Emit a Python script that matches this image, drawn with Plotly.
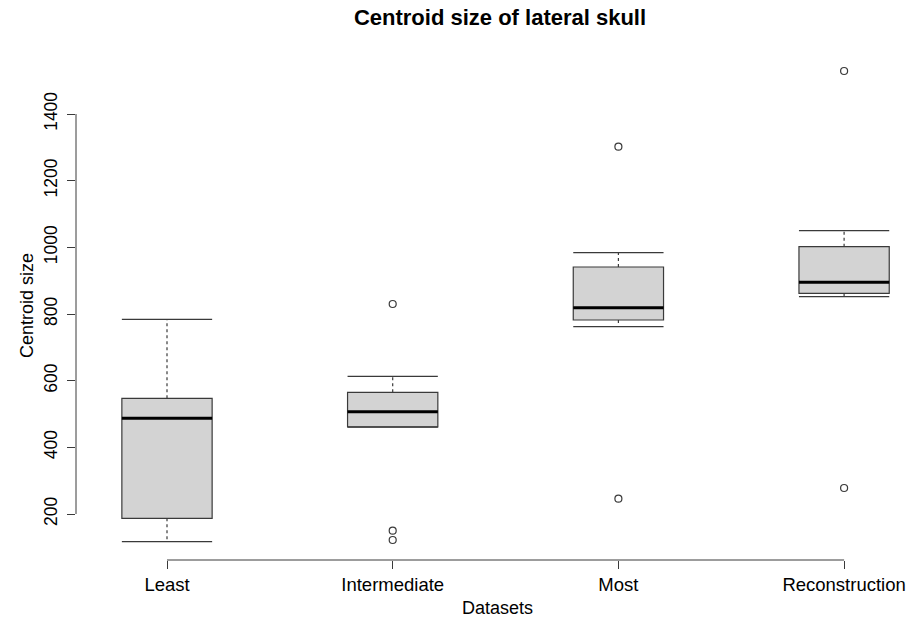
import plotly.graph_objects as go

# ---- data ----
categories = ["Least", "Intermediate", "Most", "Reconstruction"]
lower_whisker = [117, 461, 762, 852]
q1 = [187, 461, 782, 862]
median = [487, 507, 819, 895]
q3 = [547, 565, 941, 1002]
upper_whisker = [784, 613, 984, 1050]
outliers = [[], [830, 150, 122], [1302, 246], [1529, 278]]
y_ticks = [200, 400, 600, 800, 1000, 1200, 1400]

W, H = 921, 622
pos = list(range(1, len(categories) + 1))
half = 0.2  # half box width in category units
edge = "#3a3a3a"

fig = go.Figure()

# boxes (box + median drawn by plotly, whiskers drawn separately so they can be dashed)
for i, c in enumerate(categories):
    fig.add_trace(go.Box(
        x=[pos[i]], q1=[q1[i]], median=[median[i]], q3=[q3[i]],
        lowerfence=[q1[i]], upperfence=[q3[i]],
        width=2 * half, fillcolor="#d3d3d3",
        line=dict(color=edge, width=1.2), whiskerwidth=0,
        boxpoints=False, showlegend=False, hoverinfo="skip",
    ))

# dashed whiskers
wx, wy = [], []
for i in range(len(categories)):
    wx += [pos[i], pos[i], None, pos[i], pos[i], None]
    wy += [q3[i], upper_whisker[i], None, q1[i], lower_whisker[i], None]
fig.add_trace(go.Scatter(x=wx, y=wy, mode="lines",
                         line=dict(color=edge, width=1.2, dash="3px,3px"),
                         showlegend=False, hoverinfo="skip"))

# staples
sx, sy = [], []
for i in range(len(categories)):
    for v in (upper_whisker[i], lower_whisker[i]):
        sx += [pos[i] - half, pos[i] + half, None]
        sy += [v, v, None]
fig.add_trace(go.Scatter(x=sx, y=sy, mode="lines",
                         line=dict(color=edge, width=1.4),
                         showlegend=False, hoverinfo="skip"))

# thick medians
mx, my = [], []
for i in range(len(categories)):
    mx += [pos[i] - half, pos[i] + half, None]
    my += [median[i], median[i], None]
fig.add_trace(go.Scatter(x=mx, y=my, mode="lines",
                         line=dict(color="black", width=3),
                         showlegend=False, hoverinfo="skip"))

# outliers
ox, oy = [], []
for i, vals in enumerate(outliers):
    for v in vals:
        ox.append(pos[i])
        oy.append(v)
fig.add_trace(go.Scatter(x=ox, y=oy, mode="markers",
                         marker=dict(symbol="circle-open", size=7,
                                     color=edge, line=dict(width=1.2)),
                         showlegend=False, hoverinfo="skip"))

font_family = "Liberation Sans, Arial, Helvetica, sans-serif"

fig.update_layout(
    width=W, height=H,
    margin=dict(l=76, r=0, t=52, b=62, autoexpand=False),
    paper_bgcolor="white", plot_bgcolor="white",
    font=dict(family=font_family, size=17.5, color="black"),
    title=dict(text="<b>Centroid size of lateral skull</b>",
               x=500 / W, xanchor="center", xref="container",
               y=1 - 10 / H, yanchor="top", yref="container",
               font=dict(size=22, color="black")),
    xaxis=dict(range=[1 - 91 / 225.7, 1 + (W - 167) / 225.7],
               tickmode="array", tickvals=pos, ticktext=categories,
               showgrid=False, zeroline=False, showline=False,
               automargin=False,
               ticks="outside", ticklen=8, tickwidth=1, tickcolor=edge,
               tickfont=dict(size=18.5)),
    yaxis=dict(range=[62, 1586],
               tickmode="array", tickvals=y_ticks,
               ticktext=[str(t) for t in y_ticks],
               showgrid=False, zeroline=False, showline=False,
               automargin=False,
               ticks="outside", ticklen=8, tickwidth=1, tickcolor=edge,
               ticklabelstandoff=3,
               tickangle=-90, tickfont=dict(size=17.5)),
    shapes=[
        dict(type="line", xref="x", yref="paper", x0=pos[0], x1=pos[-1],
             y0=0, y1=0, line=dict(color=edge, width=1)),
        dict(type="line", xref="paper", yref="y", x0=0, x1=0,
             y0=y_ticks[0], y1=y_ticks[-1], line=dict(color=edge, width=1)),
    ],
    annotations=[
        dict(text="Datasets", xref="paper", yref="paper",
             x=(497 - 76) / (W - 76), y=-(608 - 560) / 508,
             xanchor="center", yanchor="middle", showarrow=False,
             font=dict(size=18)),
        dict(text="Centroid size", xref="paper", yref="paper",
             x=-(76 - 27) / (W - 76), y=(560 - 306) / 508,
             xanchor="center", yanchor="middle", textangle=-90,
             showarrow=False, font=dict(size=18)),
    ],
)

fig.write_html("out.html",
               config={"displayModeBar": False},
               post_script="document.body.style.margin='0';document.body.style.padding='0';")
